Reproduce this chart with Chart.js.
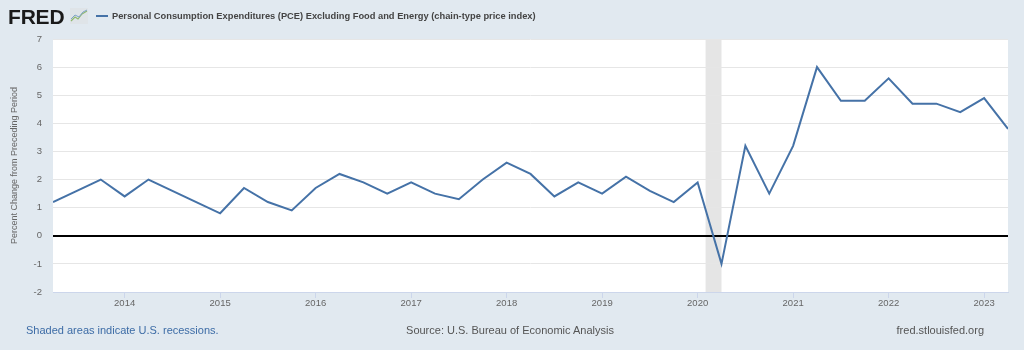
<!DOCTYPE html>
<html>
<head>
<meta charset="utf-8">
<script src="https://cdn.jsdelivr.net/npm/chart.js@4.4.1/dist/chart.umd.min.js"></script>
<style>
  html, body { margin: 0; padding: 0; background: #e1e9f0; }
  body { width: 1024px; height: 350px; position: relative; overflow: hidden; font-family: "Liberation Sans", Arial, Helvetica, sans-serif; }
  #chart { position: absolute; left: 0; top: 0; }
  .logo { position: absolute; left: 8px; top: 5px; font-size: 21px; font-weight: bold; color: #1a1a1a; letter-spacing: -0.2px; }
  .icon { position: absolute; left: 70px; top: 8px; }
  .dash { position: absolute; left: 96px; top: 15px; width: 12px; height: 2px; background: #4572a7; }
  .title { position: absolute; left: 112px; top: 11px; font-size: 9.3px; font-weight: bold; color: #444; white-space: nowrap; }
  .foot { position: absolute; top: 324px; font-size: 11px; color: #555; white-space: nowrap; }
</style>
</head>
<body>
<canvas id="chart" width="1024" height="350"></canvas>
<div class="logo">FRED</div>
<svg class="icon" width="18" height="16" viewBox="0 0 18 16">
  <rect x="0" y="0" width="18" height="16" fill="#dfe4e8"/>
  <polyline points="1,13 5,9 8,11 12,6 17,3" fill="none" stroke="#8fb86e" stroke-width="1.2"/>
  <polyline points="1,11 5,7 9,9 13,4 17,2" fill="none" stroke="#7fa3c9" stroke-width="1"/>
</svg>
<div class="dash"></div>
<div class="title">Personal Consumption Expenditures (PCE) Excluding Food and Energy (chain-type price index)</div>
<div class="foot" style="left:26px;color:#3d6ca6;">Shaded areas indicate U.S. recessions.</div>
<div class="foot" style="left:0;width:1020px;text-align:center;">Source: U.S. Bureau of Economic Analysis</div>
<div class="foot" style="right:40px;">fred.stlouisfed.org</div>
<script>
const quarters = [
  "2013-04-01", "2013-07-01", "2013-10-01",
  "2014-01-01", "2014-04-01", "2014-07-01", "2014-10-01",
  "2015-01-01", "2015-04-01", "2015-07-01", "2015-10-01",
  "2016-01-01", "2016-04-01", "2016-07-01", "2016-10-01",
  "2017-01-01", "2017-04-01", "2017-07-01", "2017-10-01",
  "2018-01-01", "2018-04-01", "2018-07-01", "2018-10-01",
  "2019-01-01", "2019-04-01", "2019-07-01", "2019-10-01",
  "2020-01-01", "2020-04-01", "2020-07-01", "2020-10-01",
  "2021-01-01", "2021-04-01", "2021-07-01", "2021-10-01",
  "2022-01-01", "2022-04-01", "2022-07-01", "2022-10-01",
  "2023-01-01", "2023-04-01"
];
const pceCore = [
  1.2, 1.6, 2.0,
  1.4, 2.0, 1.6, 1.2,
  0.8, 1.7, 1.2, 0.9,
  1.7, 2.2, 1.9, 1.5,
  1.9, 1.5, 1.3, 2.0,
  2.6, 2.2, 1.4, 1.9,
  1.5, 2.1, 1.6, 1.2,
  1.9, -1.0, 3.2, 1.5,
  3.2, 6.0, 4.8, 4.8,
  5.6, 4.7, 4.7, 4.4,
  4.9, 3.8
];
const recessions = [["2020-02-01", "2020-04-01"]];
const yearTicks = [2014, 2015, 2016, 2017, 2018, 2019, 2020, 2021, 2022, 2023];
const yTicks = [-2, -1, 0, 1, 2, 3, 4, 5, 6, 7];

// date string -> decimal year so a linear scale can place it
function toYear(s) {
  const [y, m] = s.split("-").map(Number);
  return y + (m - 1) / 12;
}

const plotBg = {
  id: "plotBg",
  beforeDraw(chart) {
    const { ctx, chartArea: a, scales } = chart;
    ctx.save();
    ctx.fillStyle = "#ffffff";
    ctx.fillRect(a.left, a.top, a.right - a.left, a.bottom - a.top);
    ctx.fillStyle = "#e5e5e5";
    recessions.forEach(([from, to]) => {
      const x1 = scales.x.getPixelForValue(toYear(from));
      const x2 = scales.x.getPixelForValue(toYear(to));
      ctx.fillRect(x1, a.top, x2 - x1, a.bottom - a.top);
    });
    ctx.restore();
  }
};

const tickFont = { size: 9.5, family: "'Liberation Sans', Arial, sans-serif" };

new Chart(document.getElementById("chart").getContext("2d"), {
  type: "line",
  data: {
    datasets: [{
      data: quarters.map((d, i) => ({ x: toYear(d), y: pceCore[i] })),
      borderColor: "#4572a7",
      borderWidth: 2,
      pointRadius: 0,
      tension: 0,
      fill: false
    }]
  },
  options: {
    responsive: false,
    animation: false,
    layout: { padding: { top: 39, right: 16, bottom: 38, left: 0 } },
    plugins: { legend: { display: false }, tooltip: { enabled: false } },
    scales: {
      x: {
        type: "linear",
        min: toYear(quarters[0]),
        max: toYear(quarters[quarters.length - 1]),
        afterBuildTicks: (s) => { s.ticks = yearTicks.map((v) => ({ value: v })); },
        afterFit: (s) => { s.height = 20; },
        ticks: {
          autoSkip: false,
          maxRotation: 0,
          padding: 0,
          color: "#666",
          font: tickFont,
          callback: (v) => String(v)
        },
        grid: { drawOnChartArea: false, drawTicks: true, tickLength: 6, color: "#ccd6eb" },
        border: { color: "#ccd6eb" }
      },
      y: {
        min: -2,
        max: 7,
        afterBuildTicks: (s) => { s.ticks = yTicks.map((v) => ({ value: v })); },
        afterFit: (s) => { s.width = 53; },
        ticks: { padding: 11, color: "#666", font: tickFont },
        grid: {
          drawTicks: false,
          color: (c) => (c.tick && c.tick.value === 0 ? "#000000" : "#e6e6e6"),
          lineWidth: (c) => (c.tick && c.tick.value === 0 ? 2 : 1)
        },
        border: { display: false },
        title: {
          display: true,
          text: "Percent Change from Preceding Period",
          color: "#666",
          padding: { top: 9, bottom: 0 },
          font: { size: 9, family: "'Liberation Sans', Arial, sans-serif" }
        }
      }
    }
  },
  plugins: [plotBg]
});
</script>
</body>
</html>
